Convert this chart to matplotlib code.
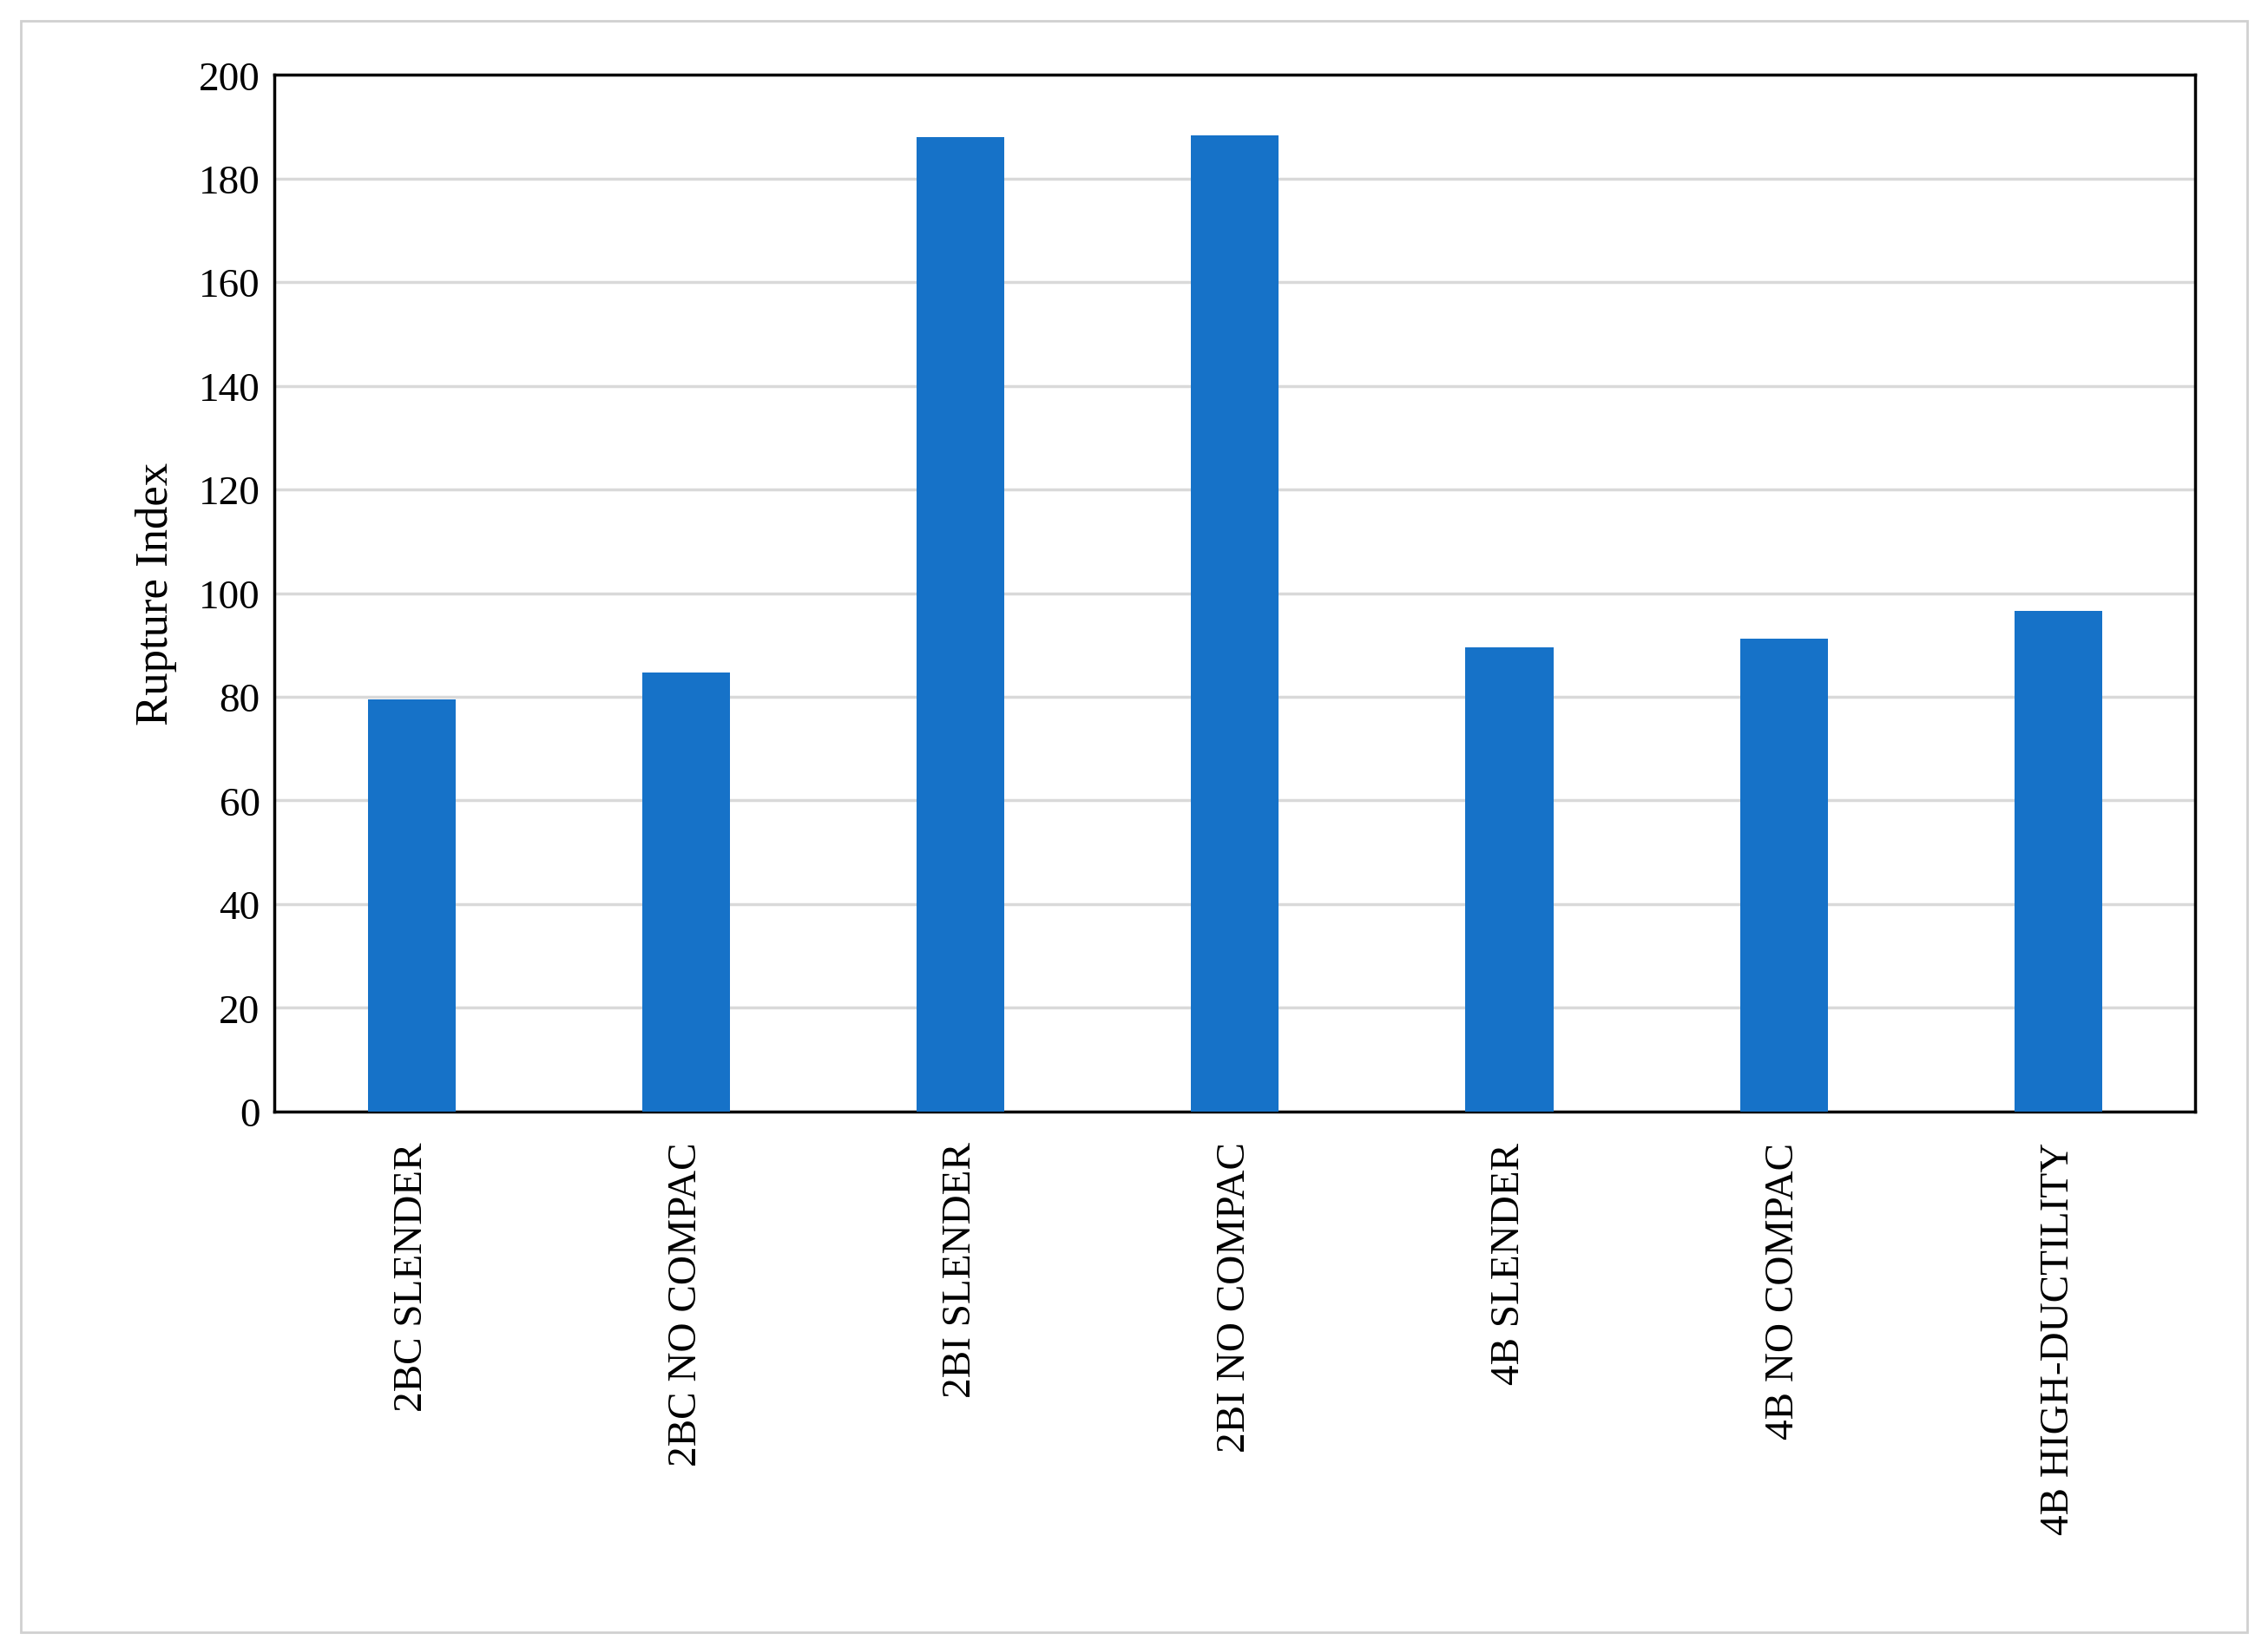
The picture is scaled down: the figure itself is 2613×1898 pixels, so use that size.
import matplotlib.pyplot as plt
from matplotlib.patches import Rectangle

categories = ["2BC SLENDER", "2BC NO COMPAC", "2BI SLENDER", "2BI NO COMPAC",
              "4B SLENDER", "4B NO COMPAC", "4B HIGH-DUCTILITY"]
rupture_index = [79.5, 84.7, 188.0, 188.4, 89.6, 91.3, 96.6]

plt.rcParams['font.family'] = ['Liberation Serif', 'DejaVu Serif']

fig = plt.figure(figsize=(26.13, 18.99), dpi=100)
fig.patches.append(Rectangle((0.009, 0.009), 0.982, 0.978, transform=fig.transFigure,
                             fill=False, edgecolor='#d0d0d0', linewidth=2))
ax = fig.add_axes([0.121, 0.325, 0.847, 0.629])

x = range(len(categories))
ax.bar(x, rupture_index, width=0.32, color='#1672c8', zorder=3)

ax.set_ylim(0, 200)
ax.set_xlim(-0.5, len(categories) - 0.5)
ax.set_yticks(range(0, 201, 20))
ax.yaxis.grid(True, color='#d9d9d9', linewidth=2.5, zorder=0)
ax.set_xticks(list(x))
ax.set_xticklabels(categories, rotation=90, fontsize=34)
ax.tick_params(axis='y', labelsize=34, length=0, pad=12)
ax.tick_params(axis='x', length=0, pad=25)
ax.set_ylabel("Rupture Index", fontsize=38, labelpad=18)
for s in ax.spines.values():
    s.set_linewidth(2.5)
    s.set_color('black')

fig.savefig("out.png", dpi=100)
